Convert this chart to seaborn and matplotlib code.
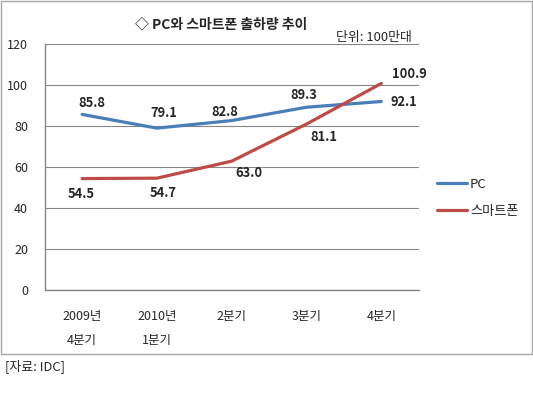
import numpy as np
import pandas as pd
import matplotlib
matplotlib.use('Agg')
import matplotlib.pyplot as plt
from matplotlib.patches import Rectangle
import seaborn as sns

sns.set_style('white')
plt.rcParams['font.family'] = ['Noto Sans CJK KR', 'DejaVu Sans']

# data (단위: 100만대)
quarters = ['2009년\n4분기', '2010년\n1분기', '2분기', '3분기', '4분기']
pc = [85.8, 79.1, 82.8, 89.3, 92.1]
smartphone = [54.5, 54.7, 63.0, 81.1, 100.9]
series_names = ['PC', '스마트폰']

# label offsets in pixels (dx, dy), as placed on the original
pc_offsets = [(10, 11), (7, 15), (-7, 9), (-3, 12), (23, -1)]
sp_offsets = [(-1, -15), (6, -15), (17, -12), (17, -13), (28, 9)]

df = pd.DataFrame({
    'quarter': quarters * 2,
    'value': pc + smartphone,
    'series': [series_names[0]] * 5 + [series_names[1]] * 5,
})

W, H = 533, 395
fig, ax = plt.subplots(figsize=(W / 100, H / 100), dpi=100)
fig.subplots_adjust(left=44.7 / W, right=418.7 / W, bottom=1 - 290.3 / H, top=1 - 44.3 / H)

colors = ['#4A7EBB', '#BE4B48']
sns.lineplot(data=df, x='quarter', y='value', hue='series', palette=colors,
             linewidth=2.3, sort=False, ax=ax)

for vals, offs in [(pc, pc_offsets), (smartphone, sp_offsets)]:
    for i, (v, o) in enumerate(zip(vals, offs)):
        ax.annotate('{:.1f}'.format(v), (i, v), xytext=o, textcoords='offset pixels',
                    ha='center', va='center', fontsize=9.3, fontweight='bold')

grey = '#868686'
ax.set_xlim(-0.5, 4.5)
ax.set_ylim(0, 120)
ax.set_yticks(np.arange(0, 121, 20))
ax.set_xticks(np.arange(-0.5, 5, 1), minor=True)
ax.tick_params(axis='x', which='major', length=0, pad=14.5, labelsize=9)
ax.tick_params(axis='x', which='minor', length=5, width=1, color=grey, direction='out')
ax.tick_params(axis='y', length=4, width=1, color=grey, direction='out', pad=8, labelsize=9)
ax.set_xticklabels(quarters, linespacing=2.05)
ax.grid(axis='y', color=grey, linewidth=0.8)
ax.grid(axis='x', visible=False)
ax.set_axisbelow(True)
for s in ['top', 'right']:
    ax.spines[s].set_visible(False)
for s in ['left', 'bottom']:
    ax.spines[s].set_color(grey)
    ax.spines[s].set_linewidth(1)
ax.set_xlabel('')
ax.set_ylabel('')

handles, labels = ax.get_legend_handles_labels()
ax.get_legend().remove()
fig.legend(handles, labels, loc='upper left', bbox_to_anchor=(437 / W, 1 - 178 / H),
           frameon=False, fontsize=9.5, handlelength=2.3, handletextpad=0.2,
           labelspacing=1.05, borderpad=0, borderaxespad=0)

fig.text(221 / W, 1 - 25 / H, '◇ PC와 스마트폰 출하량 추이', ha='center', va='center',
         fontsize=10, fontweight='bold')
fig.text(412 / W, 1 - 37 / H, '단위: 100만대', ha='right', va='center', fontsize=9.3)
fig.text(5 / W, 1 - 366 / H, '[자료: IDC]', ha='left', va='center', fontsize=9.3)

fig.patches.append(Rectangle((0.5 / W, 1 - 354 / H), 531.5 / W, 353.5 / H,
                             transform=fig.transFigure, fill=False,
                             edgecolor='#a6a6a6', linewidth=1))

fig.savefig('out.png', dpi=100)
